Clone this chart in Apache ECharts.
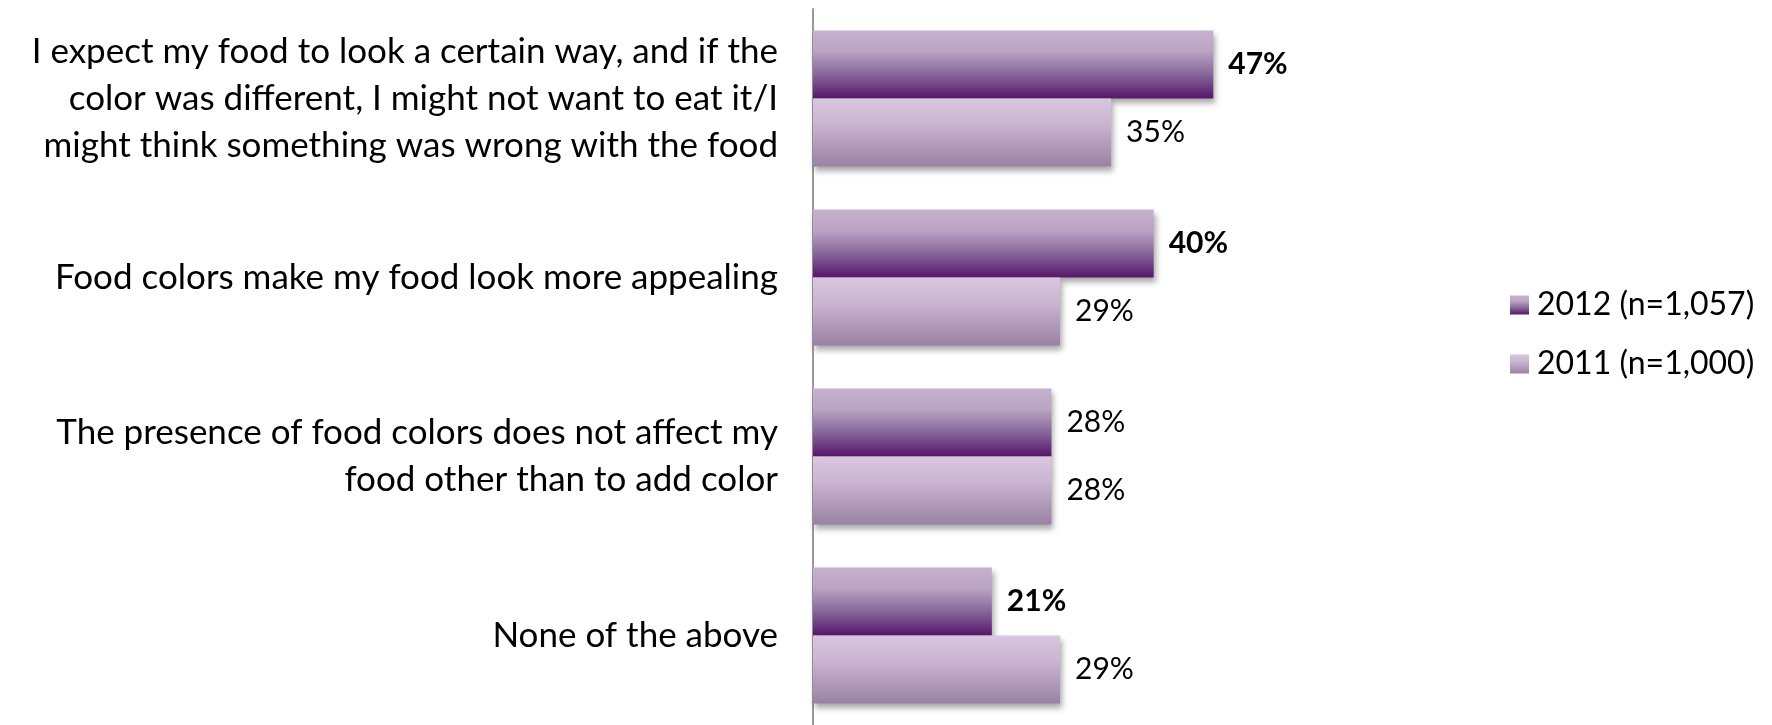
<!DOCTYPE html>
<html>
<head>
<meta charset="utf-8">
<script src="https://cdn.jsdelivr.net/npm/echarts@6/dist/echarts.min.js"></script>
<style>
  html, body { margin: 0; padding: 0; background: #ffffff; }
  #chart { width: 1772px; height: 725px; }
</style>
</head>
<body>
<div id="chart"></div>
<script>
// Survey statements, listed top to bottom
const categories = [
  'I expect my food to look a certain way, and if the\ncolor was different, I might not want to eat it/I\nmight think something was wrong with the food',
  'Food colors make my food look more appealing',
  'The presence of food colors does not affect my\nfood other than to add color',
  'None of the above'
];
const seriesNames = ['2012 (n=1,057)', '2011 (n=1,000)'];
const values2012 = [47, 40, 28, 21];
const values2011 = [35, 29, 28, 29];
// 2012 labels shown in bold where the change is notable
const bold2012 = [true, true, false, true];

const FONT = 'Lato, "Open Sans", sans-serif';

const grad2012 = new echarts.graphic.LinearGradient(0, 0, 0, 1, [
  { offset: 0, color: '#c6b1ce' },
  { offset: 0.3, color: '#bba4c4' },
  { offset: 0.65, color: '#86669a' },
  { offset: 1, color: '#57156a' }
]);
const grad2011 = new echarts.graphic.LinearGradient(0, 0, 0, 1, [
  { offset: 0, color: '#d9c6e0' },
  { offset: 0.35, color: '#ccb6d3' },
  { offset: 1, color: '#9a82a2' }
]);

const barShadow = {
  shadowBlur: 6,
  shadowOffsetX: 2,
  shadowOffsetY: 4,
  shadowColor: 'rgba(0,0,0,0.35)'
};

const labelBase = {
  show: true,
  position: 'right',
  distance: 15,
  fontFamily: FONT,
  fontSize: 30,
  color: '#000000',
  formatter: '{c}%'
};

const chart = echarts.init(document.getElementById('chart'), null, { renderer: 'canvas' });
chart.setOption({
  animation: false,
  backgroundColor: '#ffffff',
  grid: { left: 813, top: 9, width: 511, height: 721 },
  xAxis: { type: 'value', min: 0, max: 60, show: false },
  yAxis: {
    type: 'category',
    inverse: true,
    data: categories,
    axisLine: { show: true, lineStyle: { color: '#9a9a9a', width: 2 } },
    axisTick: { show: false },
    axisLabel: {
      margin: 35,
      align: 'right',
      fontFamily: FONT,
      fontSize: 35,
      lineHeight: 47,
      color: '#000000'
    },
    splitLine: { show: false }
  },
  legend: {
    orient: 'vertical',
    left: 1505,
    top: 284,
    itemWidth: 19,
    itemHeight: 19,
    itemGap: 27,
    icon: 'rect',
    data: seriesNames,
    textStyle: { fontFamily: FONT, fontSize: 32, color: '#000000', padding: [0, 0, 0, 3] },
    itemStyle: { shadowBlur: 0, shadowOffsetX: 0, shadowOffsetY: 0 }
  },
  series: [
    {
      name: seriesNames[0],
      type: 'bar',
      barWidth: 68,
      barGap: '0%',
      itemStyle: Object.assign({ color: grad2012 }, barShadow),
      label: labelBase,
      data: values2012.map((v, i) => ({
        value: v,
        label: { fontWeight: bold2012[i] ? 'bold' : 'normal' }
      }))
    },
    {
      name: seriesNames[1],
      type: 'bar',
      barWidth: 68,
      barGap: '0%',
      itemStyle: Object.assign({ color: grad2011 }, barShadow),
      label: labelBase,
      data: values2011
    }
  ]
});
</script>
</body>
</html>
